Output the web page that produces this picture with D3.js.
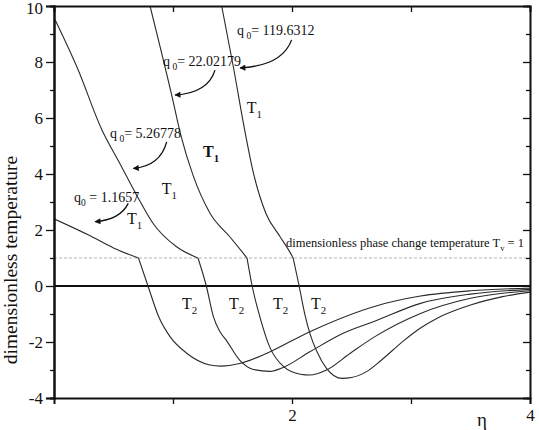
<!DOCTYPE html>
<html><head><meta charset="utf-8">
<script src="https://cdn.jsdelivr.net/npm/d3@7"></script>
<style>
body{margin:0;background:#fff}
svg{display:block}
text{font-family:"Liberation Serif","Times New Roman",serif;fill:#111}
</style>
</head><body>
<svg id="c" width="539" height="430"></svg>
<script>
// ---------- data ----------
const xDomain = [0, 4];
const yDomain = [-4, 10];
const yMajorTicks = [-4, -2, 0, 2, 4, 6, 8, 10];
const yMinorTicks = [-3, -1, 1, 3, 5, 7, 9];
const xTicks = [1, 2, 3, 4];
const xTickLabels = ["", "2", "", "4"];
const phaseChangeT = 1;
const q0Values = ["119.6312", "22.02179", "5.26778", "1.1657"];

// q0 = 1.1657
const curve1T1 = [[0,2.4],[0.3,1.8],[0.5,1.36],[0.71,1.0]];
const curve1T2 = [[0.71,1.0],[0.79,0],[0.88,-1.1],[0.975,-1.81],[1.115,-2.4],[1.31,-2.82],[1.4,-2.86],[1.56,-2.77],[1.79,-2.4],[2.15,-1.63],[2.7,-0.72],[3.08,-0.36],[3.5,-0.17],[4,-0.08]];
// q0 = 5.26778
const curve2T1 = [[0.01,9.5],[0.2,7.75],[0.4,5.6],[0.55,4.4],[0.7,3.2],[0.83,2.25],[1.03,1.4],[1.21,1.0]];
const curve2T2 = [[1.21,1.0],[1.28,0],[1.34,-1.1],[1.39,-1.6],[1.45,-1.95],[1.56,-2.65],[1.675,-2.98],[1.815,-3.05],[1.93,-2.9],[2.15,-2.35],[2.43,-1.69],[2.7,-1.25],[3.08,-0.62],[3.5,-0.29],[4,-0.12]];
// q0 = 22.02179
const curve3T1 = [[0.807,10],[0.99,6.8],[1.065,5.4],[1.168,3.96],[1.311,2.6],[1.479,1.75],[1.588,1.18],[1.622,1.0]];
const curve3T2 = [[1.622,1.0],[1.665,0],[1.73,-1.1],[1.815,-2.2],[1.93,-2.88],[2.07,-3.15],[2.15,-3.18],[2.29,-3.0],[2.49,-2.4],[2.7,-1.8],[3.08,-0.98],[3.5,-0.44],[4,-0.17]];
// q0 = 119.6312
const curve4T1 = [[1.409,10],[1.507,7.83],[1.59,5.85],[1.675,4.05],[1.78,2.6],[1.9,1.76],[1.97,1.3],[2.01,1.0]];
const curve4T2 = [[2.01,1.0],[2.06,0],[2.11,-1.05],[2.15,-1.69],[2.21,-2.35],[2.29,-2.94],[2.42,-3.3],[2.5,-3.27],[2.63,-3.05],[2.75,-2.65],[2.94,-1.95],[3.08,-1.5],[3.22,-1.15],[3.5,-0.68],[3.77,-0.38],[4,-0.22]];

// annotation anchors (data units: eta, T)
const q0LabelPos = [[1.538,8.96],[0.916,7.86],[0.471,5.29],[0.168,3.0]];
const arrowStart = [[1.997,8.79],[1.353,7.71],[0.947,5.15],[0.624,2.95]];
const arrowCtrl  = [[1.916,7.86],[1.294,6.89],[0.893,4.29],[0.555,2.36]];
const arrowEnd   = [[1.563,7.79],[1.017,6.82],[0.667,4.2],[0.345,2.3]];
const t1LabelPos = [[1.62,6.18],[1.252,4.61],[0.905,3.29],[0.613,2.21]];
const t2LabelPos = [[1.076,-0.82],[1.471,-0.82],[1.84,-0.82],[2.16,-0.82]];

// ---------- drawing ----------
const svg = d3.select("#c");
const x = d3.scaleLinear().domain(xDomain).range([54, 530]);
const y = d3.scaleLinear().domain(yDomain).range([398, 6]);

// reference lines
svg.append("line").attr("x1", x(0)).attr("x2", x(4)).attr("y1", y(phaseChangeT)).attr("y2", y(phaseChangeT))
  .attr("stroke", "#b5b5b5").attr("stroke-width", 1).attr("stroke-dasharray", "3,2");
svg.append("line").attr("x1", x(0)).attr("x2", x(4)).attr("y1", y(0)).attr("y2", y(0))
  .attr("stroke", "#111").attr("stroke-width", 2);

// curves
const line = d3.line().x(d => x(d[0])).y(d => y(d[1])).curve(d3.curveMonotoneX);
svg.append("clipPath").attr("id", "clp").append("rect")
  .attr("x", x(0)).attr("y", y(10)).attr("width", x(4) - x(0)).attr("height", y(-4) - y(10));
const segs = [curve1T1, curve1T2, curve2T1, curve2T2, curve3T1, curve3T2, curve4T1, curve4T2];
svg.append("g").attr("clip-path", "url(#clp)").selectAll("path").data(segs).join("path")
  .attr("d", line).attr("fill", "none").attr("stroke", "#2a2a2a").attr("stroke-width", 1.1);

// axes
function styleAxis(g, w) {
  g.select(".domain").attr("stroke", "#111").attr("stroke-width", w);
  g.selectAll(".tick line").attr("stroke", "#111").attr("stroke-width", 1.3);
  g.selectAll(".tick text").style("font-family", '"Liberation Serif",serif').style("font-size", "17px").attr("fill", "#111");
}
const gl = svg.append("g").attr("transform", `translate(${x(0)},0)`)
  .call(d3.axisLeft(y).tickValues(yMajorTicks).tickSize(8).tickPadding(3).tickFormat(d => String(d)));
styleAxis(gl, 2);
gl.selectAll(".tick text").filter(d => d === 10).attr("dy", "0.45em");
const glm = svg.append("g").attr("transform", `translate(${x(0)},0)`)
  .call(d3.axisLeft(y).tickValues(yMinorTicks).tickSize(4).tickFormat(""));
styleAxis(glm, 2);
const gr = svg.append("g").attr("transform", `translate(${x(4)},0)`)
  .call(d3.axisRight(y).tickValues(yMajorTicks).tickSize(-7).tickFormat(""));
styleAxis(gr, 1.6);
const grm = svg.append("g").attr("transform", `translate(${x(4)},0)`)
  .call(d3.axisRight(y).tickValues(yMinorTicks).tickSize(-4).tickFormat(""));
styleAxis(grm, 1.6);
const gt = svg.append("g").attr("transform", `translate(0,${y(10)})`)
  .call(d3.axisBottom(x).tickValues([1, 2, 3]).tickSize(6).tickFormat(""));
styleAxis(gt, 2);
const gb = svg.append("g").attr("transform", `translate(0,${y(-4)})`)
  .call(d3.axisBottom(x).tickValues(xTicks).tickSize(6).tickPadding(5).tickFormat((d, i) => xTickLabels[i]));
styleAxis(gb, 2);

// axis titles
svg.append("text").attr("x", 482).attr("y", 426).attr("text-anchor", "middle")
  .style("font-size", "19px").text("η");
svg.append("text").attr("transform", "translate(17,260) rotate(-90)").attr("text-anchor", "middle")
  .style("font-size", "19.5px").text("dimensionless temperature");

// text with subscripts
function subText(px, py, base, sub, rest, size, bold) {
  const t = svg.append("text").attr("x", px).attr("y", py).style("font-size", size + "px");
  if (bold) t.style("font-weight", "bold");
  t.append("tspan").text(base);
  t.append("tspan").attr("dy", size * 0.3).style("font-size", (size * 0.68) + "px").text(sub);
  if (rest) t.append("tspan").attr("dy", -size * 0.3).text(rest);
  return t;
}

// q0 labels and arrows
const defs = svg.append("defs");
defs.append("marker").attr("id", "ah").attr("viewBox", "0 0 10 10").attr("refX", 9).attr("refY", 5)
  .attr("markerWidth", 9).attr("markerHeight", 6).attr("orient", "auto").attr("markerUnits", "userSpaceOnUse")
  .append("path").attr("d", "M0,0 L10,5 L0,10 Z").attr("fill", "#111");
q0Values.forEach((v, i) => {
  const sep = i === 3 ? " = " : "= ";
  subText(x(q0LabelPos[i][0]), y(q0LabelPos[i][1]), "q", i === 3 ? "0" : " 0", sep + v, 14, false);
  const p = d3.path();
  p.moveTo(x(arrowStart[i][0]), y(arrowStart[i][1]));
  p.quadraticCurveTo(x(arrowCtrl[i][0]), y(arrowCtrl[i][1]), x(arrowEnd[i][0]), y(arrowEnd[i][1]));
  svg.append("path").attr("d", p.toString()).attr("fill", "none").attr("stroke", "#111")
    .attr("stroke-width", 1.3).attr("marker-end", "url(#ah)");
});

t1LabelPos.forEach((d, i) => subText(x(d[0]), y(d[1]), "T", "1", null, 16, i === 1));
t2LabelPos.forEach(d => subText(x(d[0]), y(d[1]), "T", "2", null, 16, false));

// phase change annotation
subText(286, 247, "dimensionless phase change temperature T", "v", " = 1", 12.5, false)
  .attr("textLength", 238).attr("lengthAdjust", "spacingAndGlyphs");
</script>
</body></html>
